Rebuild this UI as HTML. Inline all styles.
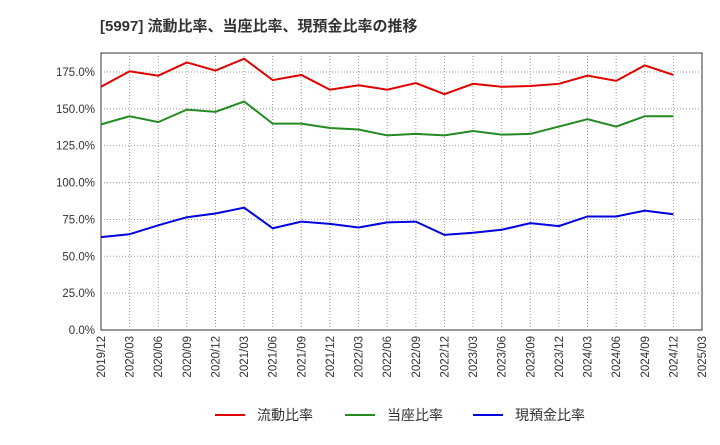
<!DOCTYPE html>
<html><head><meta charset="utf-8"><style>
body{margin:0;background:#fff;font-family:"Liberation Sans","Noto Sans CJK JP",sans-serif}
</style></head><body>
<svg id="c" width="720" height="440" xmlns="http://www.w3.org/2000/svg">
<text x="100" y="31" font-size="15" font-weight="bold" fill="#333" font-family="Liberation Sans,Noto Sans CJK JP,sans-serif">[5997]  流動比率、当座比率、現預金比率の推移</text>
</svg>
<script>
const categories=["2019/12","2020/03","2020/06","2020/09","2020/12","2021/03","2021/06","2021/09","2021/12","2022/03","2022/06","2022/09","2022/12","2023/03","2023/06","2023/09","2023/12","2024/03","2024/06","2024/09","2024/12","2025/03"];
const yTicks=[0,25,50,75,100,125,150,175];
const currentRatio=[165,175.5,172.5,181.5,176,184,169.5,173,163,166,163,167.5,160,167,165,165.5,167,172.5,169,179.5,173];
const quickRatio=[139.5,145,141,149.5,148,155,140,140,137,136,132,133,132,135,132.5,133,138,143,138,145,145];
const cashRatio=[63,65,71,76.5,79,83,69,73.5,72,69.5,73,73.5,64.5,66,68,72.5,70.5,77,77,81,78.5];
const seriesNames=["流動比率","当座比率","現預金比率"];
const NS="http://www.w3.org/2000/svg",svg=document.getElementById('c');
const L=101,R=702,T=53,B=330;
const x=i=>L+(R-L)*i/(categories.length-1);
const y=v=>B-v*(B-T)/187.9;
function mk(t,a){const e=document.createElementNS(NS,t);for(const k in a)e.setAttribute(k,a[k]);svg.appendChild(e);return e;}
const bg=mk('rect',{x:L,y:T,width:R-L,height:B-T,fill:'#fff',stroke:'#333'});

categories.forEach((c,i)=>{
 if(i>0&&i<categories.length-1){const g=mk('line',{x1:x(i),x2:x(i),y1:T,y2:B,stroke:'#999','stroke-dasharray':'1,2'});}
 const t=mk('text',{x:0,y:0,'font-size':11.5,fill:'#333','text-anchor':'end',transform:`translate(${x(i)+4},${B+6}) rotate(-90)`});
 t.textContent=c;
});
yTicks.forEach(v=>{
 if(v>0){const g=mk('line',{x1:L,x2:R,y1:y(v),y2:y(v),stroke:'#999','stroke-dasharray':'1,2'});}
 const t=mk('text',{x:L-6,y:y(v)+4,'font-size':11.5,fill:'#333','text-anchor':'end'});
 t.textContent=v.toFixed(1)+'%';
});
const colors=['#e00000','#228b22','#0000e0'];
[currentRatio,quickRatio,cashRatio].forEach((s,k)=>{
 const p=mk('polyline',{points:s.map((v,i)=>x(i)+','+y(v)).join(' '),fill:'none',stroke:colors[k],'stroke-width':2});
 
});
const lx=[215,345,473];
seriesNames.forEach((n,k)=>{
 const l=mk('line',{x1:lx[k],x2:lx[k]+30,y1:415,y2:415,stroke:colors[k],'stroke-width':2});
 
 const t=mk('text',{x:lx[k]+42,y:420,'font-size':14,fill:'#333'});
 t.textContent=n;
});
</script>
</body></html>
